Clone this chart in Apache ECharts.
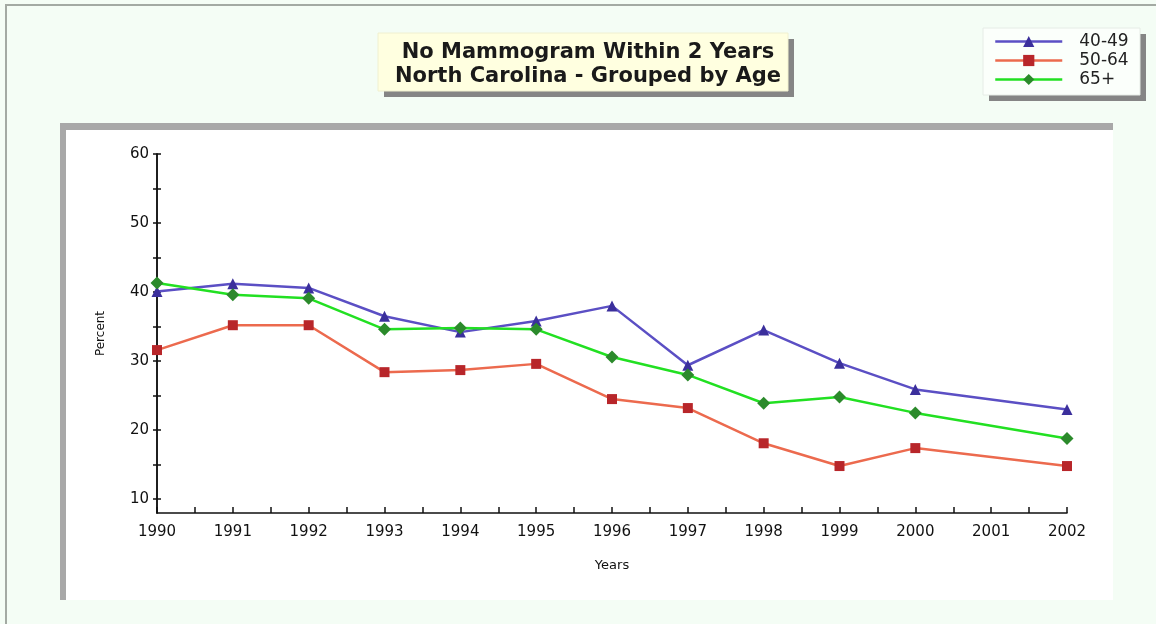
<!DOCTYPE html>
<html>
<head>
<meta charset="utf-8">
<script src="https://cdn.jsdelivr.net/npm/echarts@6/dist/echarts.min.js"></script>
<style>
html,body{margin:0;padding:0;background:#f4fdf5;}
#c{width:1156px;height:624px;}
</style>
</head>
<body>
<div id="c"></div>
<script>
var years = [1990, 1991, 1992, 1993, 1994, 1995, 1996, 1997, 1998, 1999, 2000, 2002];
var age40_49 = [40.1, 41.2, 40.6, 36.5, 34.2, 35.8, 38.0, 29.4, 34.5, 29.7, 25.9, 23.0];
var age50_64 = [31.6, 35.2, 35.2, 28.4, 28.7, 29.6, 24.5, 23.2, 18.1, 14.8, 17.4, 14.8];
var age65plus = [41.3, 39.6, 39.1, 34.6, 34.8, 34.6, 30.6, 28.0, 23.9, 24.8, 22.5, 18.8];
var xTickLabels = [1990, 1991, 1992, 1993, 1994, 1995, 1996, 1997, 1998, 1999, 2000, 2001, 2002];
var yTickLabels = [10, 20, 30, 40, 50, 60];
var seriesNames = ['40-49', '50-64', '65+'];

function pairs(xs, ys) { return xs.map(function (x, i) { return [x, ys[i]]; }); }
var xMinor = [];
for (var i = 0; i < xTickLabels.length; i++) { xMinor.push(xTickLabels[i]); if (i < xTickLabels.length - 1) xMinor.push(xTickLabels[i] + 0.5); }
var yMinor = [];
for (var v = 10; v <= 60; v += 5) yMinor.push(v);

var chart = echarts.init(document.getElementById('c'));
var font = 'DejaVu Sans, Verdana, sans-serif';
var axisCommon = {
  type: 'value', splitLine: { show: false },
  axisLine: { show: true, lineStyle: { color: '#111', width: 1.5 } }
};
chart.setOption({
  backgroundColor: '#f4fdf5',
  animation: false,
  graphic: [
    { type: 'rect', shape: { x: 6, y: 5, width: 1200, height: 700 }, style: { fill: 'none', stroke: '#a3aaa3', lineWidth: 2 }, z: -10 },
    // plot panel
    { type: 'rect', shape: { x: 60, y: 123, width: 1053, height: 477 }, style: { fill: '#ffffff' }, z: -9 },
    { type: 'rect', shape: { x: 60, y: 123, width: 1053, height: 7 }, style: { fill: '#a8a8a8' }, z: -8 },
    { type: 'rect', shape: { x: 60, y: 123, width: 6, height: 477 }, style: { fill: '#a8a8a8' }, z: -8 },
    // title box + shadow
    { type: 'rect', shape: { x: 384, y: 39, width: 410, height: 58 }, style: { fill: '#858585' }, z: -7 },
    { type: 'rect', shape: { x: 378, y: 33, width: 410, height: 58 }, style: { fill: '#ffffe0', stroke: '#f0f0d0', lineWidth: 1 }, z: -6 },
    // legend box + shadow
    { type: 'rect', shape: { x: 989, y: 34, width: 157, height: 67 }, style: { fill: '#858585' }, z: -7 },
    { type: 'rect', shape: { x: 983, y: 28, width: 157, height: 67 }, style: { fill: '#fbfffb', stroke: '#e6ece6', lineWidth: 1 }, z: -6 }
  ],
  title: {
    text: 'No Mammogram Within 2 Years\nNorth Carolina - Grouped by Age',
    left: 583, top: 36, textAlign: 'center',
    textStyle: { fontFamily: font, fontSize: 21, fontWeight: 'bold', color: '#1a1a1a', lineHeight: 24, align: 'center' }
  },
  legend: {
    orient: 'vertical', left: 989, top: 27, itemWidth: 67, itemHeight: 14, itemGap: 0,
    data: seriesNames,
    lineStyle: { width: 2.5 },
    textStyle: { fontFamily: font, fontSize: 17, color: '#222', lineHeight: 19, padding: [0, 0, 0, 12] }
  },
  grid: { left: 157, right: 89, top: 154, bottom: 111, containLabel: false },
  xAxis: [
    Object.assign({}, axisCommon, {
      min: 1990, max: 2002, name: 'Years', nameLocation: 'middle', nameGap: 46,
      nameTextStyle: { fontFamily: font, fontSize: 13, color: '#111' },
      axisTick: { show: true, inside: true, length: 6, customValues: xMinor, lineStyle: { color: '#111', width: 1.5 } },
      axisLabel: { customValues: xTickLabels, fontFamily: font, fontSize: 15, color: '#111', margin: 12, formatter: function (v) { return String(v); } }
    })
  ],
  yAxis: [
    Object.assign({}, axisCommon, {
      min: 8, max: 60, name: 'Percent', nameLocation: 'middle', nameGap: 50, nameRotate: 90,
      nameTextStyle: { fontFamily: font, fontSize: 12, color: '#111' },
      axisTick: { show: true, inside: false, length: 4, customValues: yMinor, lineStyle: { color: '#111', width: 1.5 } },
      axisLabel: { customValues: yTickLabels, fontFamily: font, fontSize: 15, color: '#111', margin: 8 }
    }),
    Object.assign({}, axisCommon, {
      min: 8, max: 60, position: 'left',
      axisTick: { show: true, inside: true, length: 4, customValues: yMinor, lineStyle: { color: '#111', width: 1.5 } },
      axisLabel: { show: false }
    })
  ],
  series: [
    { name: seriesNames[0], type: 'line', data: pairs(years, age40_49), symbol: 'triangle', symbolSize: 11,
      lineStyle: { color: '#5b4fc4', width: 2.5 }, itemStyle: { color: '#3b2f9c' } },
    { name: seriesNames[1], type: 'line', data: pairs(years, age50_64), symbol: 'rect', symbolSize: 10,
      lineStyle: { color: '#ec6a4e', width: 2.5 }, itemStyle: { color: '#b8262a' } },
    { name: seriesNames[2], type: 'line', data: pairs(years, age65plus), symbol: 'diamond', symbolSize: 13,
      lineStyle: { color: '#22e022', width: 2.5 }, itemStyle: { color: '#2b8a2b' } }
  ]
});
</script>
</body>
</html>
